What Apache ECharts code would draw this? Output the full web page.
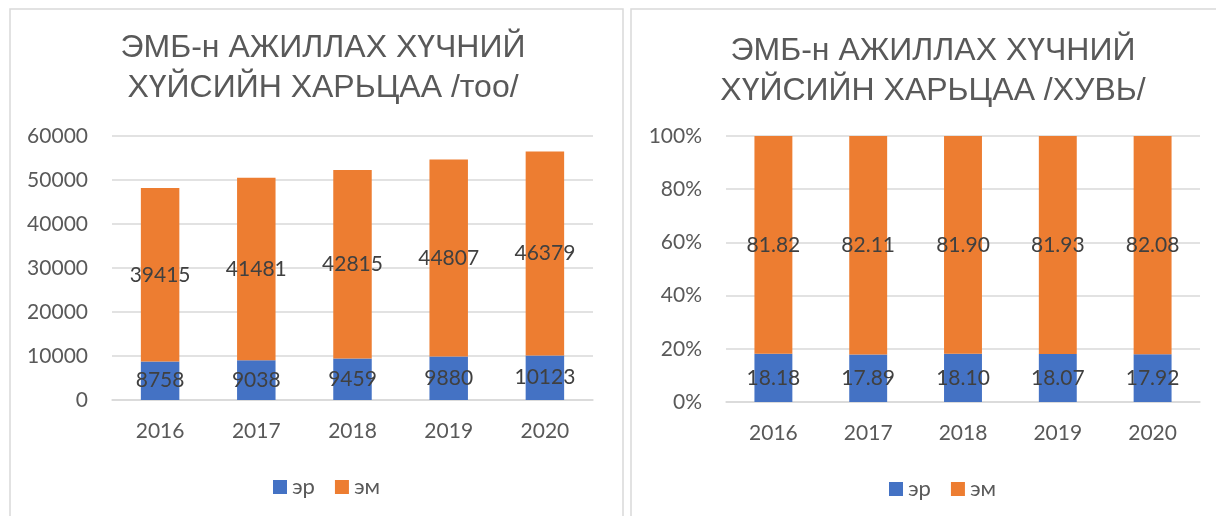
<!DOCTYPE html>
<html>
<head>
<meta charset="utf-8">
<script src="https://cdn.jsdelivr.net/npm/echarts@6/dist/echarts.min.js"></script>
<style>
  html, body { margin: 0; padding: 0; background: #fff; }
  #chart { width: 1216px; height: 516px; }
</style>
</head>
<body>
<div id="chart"></div>
<script>
const years = ['2016', '2017', '2018', '2019', '2020']
const seriesNames = ['эр', 'эм']

// too
const maleCount = [8758, 9038, 9459, 9880, 10123]
const femaleCount = [39415, 41481, 42815, 44807, 46379]

// huvi
const malePct = [18.18, 17.89, 18.10, 18.07, 17.92]
const femalePct = [81.82, 82.11, 81.90, 81.93, 82.08]

const titleLeft = 'ЭМБ-н АЖИЛЛАХ ХҮЧНИЙ\nХҮЙСИЙН ХАРЬЦАА /тоо/'
const titleRight = 'ЭМБ-н АЖИЛЛАХ ХҮЧНИЙ\nХҮЙСИЙН ХАРЬЦАА /ХУВЬ/'

const BLUE = '#4472C4'
const ORANGE = '#ED7D31'
const GREY = '#595959'
const labelFont = 'Lato, "Noto Sans", sans-serif'
const titleFont = '"Liberation Sans", Arial, sans-serif'

const chart = echarts.init(document.getElementById('chart'))

const xAxisBase = {
  type: 'category',
  data: years,
  axisLine: { lineStyle: { color: '#D9D9D9', width: 1.5 } },
  axisTick: { show: false },
  axisLabel: { color: GREY, fontSize: 21, fontFamily: labelFont, margin: 21 }
}

const yAxisBase = {
  type: 'value',
  axisLine: { show: false },
  axisTick: { show: false },
  splitLine: { lineStyle: { color: '#D9D9D9', width: 1.5 } },
  axisLabel: { color: GREY, fontSize: 21, fontFamily: labelFont, margin: 24 }
}

const barLabel = (fmt) => ({
  show: true,
  position: 'inside',
  color: '#404040',
  fontSize: 21,
  fontFamily: labelFont,
  formatter: fmt
})

const legendBase = {
  itemWidth: 14, itemHeight: 14, itemGap: 20, icon: 'rect',
  textStyle: { color: GREY, fontSize: 22, fontFamily: labelFont },
  selectedMode: false
}

const option = {
  animation: false,
  backgroundColor: '#fff',
  graphic: [
    { type: 'rect', shape: { x: 10, y: 9, width: 613, height: 520 }, style: { fill: 'none', stroke: '#D9D9D9', lineWidth: 1.5 } },
    { type: 'rect', shape: { x: 631, y: 9, width: 600, height: 520 }, style: { fill: 'none', stroke: '#D9D9D9', lineWidth: 1.5 } }
  ],
  title: [
    {
      text: titleLeft, left: 318, top: 23, textAlign: 'center',
      textStyle: { color: GREY, fontSize: 32, fontWeight: 'normal', fontFamily: titleFont, lineHeight: 40 }
    },
    {
      text: titleRight, left: 928, top: 26, textAlign: 'center',
      textStyle: { color: GREY, fontSize: 32, fontWeight: 'normal', fontFamily: titleFont, lineHeight: 40 }
    }
  ],
  legend: [
    Object.assign({ data: seriesNames.slice(), left: 268, top: 471 }, legendBase),
    Object.assign({ data: seriesNames.slice(), left: 884, top: 473 }, legendBase)
  ],
  grid: [
    { left: 112, right: 623, top: 136, bottom: 116 },
    { left: 726, right: 16, top: 136, bottom: 114 }
  ],
  xAxis: [
    Object.assign({ gridIndex: 0 }, xAxisBase),
    Object.assign({ gridIndex: 1 }, xAxisBase)
  ],
  yAxis: [
    Object.assign({ gridIndex: 0, min: 0, max: 60000, interval: 10000 }, yAxisBase, {
      axisLabel: Object.assign({}, yAxisBase.axisLabel, { formatter: v => String(v) })
    }),
    Object.assign({ gridIndex: 1, min: 0, max: 100, interval: 20 }, yAxisBase, {
      axisLabel: Object.assign({}, yAxisBase.axisLabel, { formatter: '{value}%' })
    })
  ],
  series: [
    {
      name: seriesNames[0], type: 'bar', stack: 'too', xAxisIndex: 0, yAxisIndex: 0,
      data: maleCount, itemStyle: { color: BLUE }, barCategoryGap: '60%',
      label: barLabel('{c}')
    },
    {
      name: seriesNames[1], type: 'bar', stack: 'too', xAxisIndex: 0, yAxisIndex: 0,
      data: femaleCount, itemStyle: { color: ORANGE }, barCategoryGap: '60%',
      label: barLabel('{c}')
    },
    {
      name: seriesNames[0], type: 'bar', stack: 'huvi', xAxisIndex: 1, yAxisIndex: 1,
      data: malePct, itemStyle: { color: BLUE }, barCategoryGap: '60%',
      label: barLabel(p => p.value.toFixed(2))
    },
    {
      name: seriesNames[1], type: 'bar', stack: 'huvi', xAxisIndex: 1, yAxisIndex: 1,
      data: femalePct, itemStyle: { color: ORANGE }, barCategoryGap: '60%',
      label: barLabel(p => p.value.toFixed(2))
    }
  ]
}

chart.setOption(option)
</script>
</body>
</html>
